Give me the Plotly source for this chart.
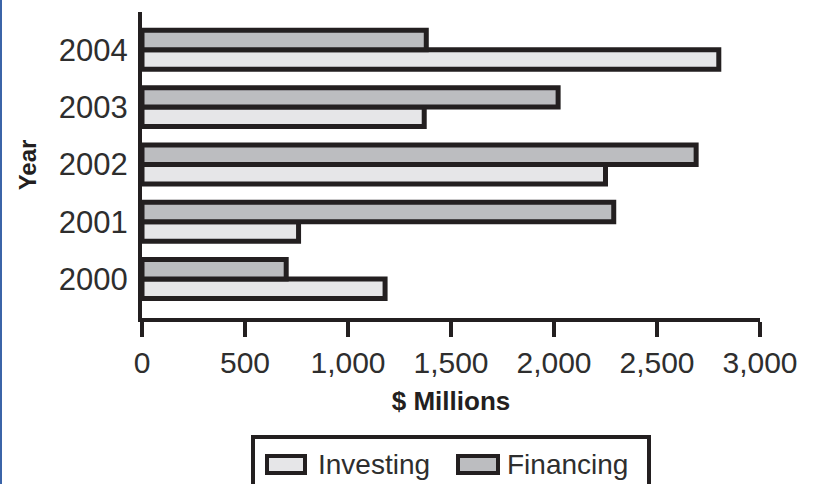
import plotly.graph_objects as go

# Cash flow by year ($ millions)
years = ["2000", "2001", "2002", "2003", "2004"]
investing = [1180, 760, 2250, 1370, 2800]
financing = [700, 2290, 2690, 2020, 1380]
x_ticks = [0, 500, 1000, 1500, 2000, 2500, 3000]
x_tick_text = ["0", "500", "1,000", "1,500", "2,000", "2,500", "3,000"]

INK = "#231f20"
TEXT = "#2e2e2e"
LIGHT = "#e6e6e8"
MID = "#bcbdc0"
FONT = "Liberation Sans, Arial, sans-serif"

fig = go.Figure()
fig.add_trace(go.Bar(
    y=years, x=investing, orientation="h", name="Investing",
    marker=dict(color=LIGHT, line=dict(color=INK, width=5)),
))
fig.add_trace(go.Bar(
    y=years, x=financing, orientation="h", name="Financing",
    marker=dict(color=MID, line=dict(color=INK, width=5)),
))

W, H = 814, 484
L, R, T, B = 142, 54, 12, 166
pw, ph = W - L - R, H - T - B


def px(x):
    return (x - L) / pw


def py(y):
    return (H - B - y) / ph


shapes = [
    # frame edge on the left of the page
    dict(type="line", xref="paper", yref="paper", x0=px(1), x1=px(1), y0=py(0), y1=py(H),
         line=dict(color="#3b64a8", width=2)),
    # legend box
    dict(type="rect", xref="paper", yref="paper", x0=px(253), x1=px(649), y0=py(437), y1=py(492),
         line=dict(color=INK, width=4), fillcolor="white"),
    dict(type="rect", xref="paper", yref="paper", x0=px(267), x1=px(305), y0=py(456), y1=py(473),
         line=dict(color=INK, width=4), fillcolor=LIGHT),
    dict(type="rect", xref="paper", yref="paper", x0=px(458), x1=px(498), y0=py(456), y1=py(473),
         line=dict(color=INK, width=4), fillcolor=MID),
]

annotations = [
    dict(text="Investing", xref="paper", yref="paper", x=px(316), y=py(464), xanchor="left",
         yanchor="middle", showarrow=False, font=dict(family=FONT, size=28, color=TEXT)),
    dict(text="Financing", xref="paper", yref="paper", x=px(505), y=py(464), xanchor="left",
         yanchor="middle", showarrow=False, font=dict(family=FONT, size=28, color=TEXT)),
]

fig.update_layout(
    width=W, height=H,
    margin=dict(l=L, r=R, t=T, b=B),
    paper_bgcolor="white", plot_bgcolor="white",
    barmode="group", bargap=0.32, bargroupgap=0,
    showlegend=False,
    shapes=shapes, annotations=annotations,
    xaxis=dict(
        range=[0, 3000], tickvals=x_ticks, ticktext=x_tick_text,
        showgrid=False, zeroline=False,
        showline=True, linecolor=INK, linewidth=4,
        ticks="outside", ticklen=15, tickwidth=4, tickcolor=INK,
        tickfont=dict(family=FONT, size=30, color=TEXT),
        title=dict(text="<b>$ Millions</b>", font=dict(family=FONT, size=26, color=INK), standoff=15),
    ),
    yaxis=dict(
        type="category", categoryorder="array", categoryarray=years,
        range=[-0.68, 4.66],
        showgrid=False, zeroline=False,
        showline=True, linecolor=INK, linewidth=4,
        ticks="", ticklabelstandoff=4,
        tickfont=dict(family=FONT, size=31, color=TEXT),
        title=dict(text="<b>Year</b>", font=dict(family=FONT, size=24, color=INK), standoff=16),
    ),
)

fig.write_html("out.html")
